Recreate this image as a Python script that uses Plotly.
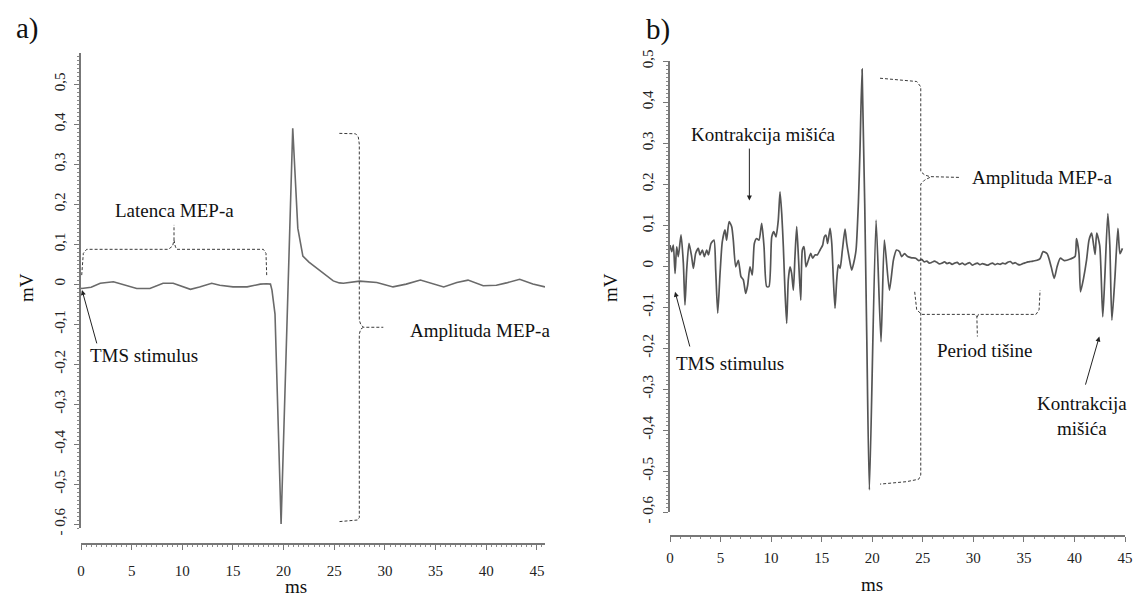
import plotly.graph_objects as go

# ---- panel a) : single MEP, relaxed muscle ----
t_a = [0.0, 0.07, 1.0, 1.9, 3.2, 4.5, 5.5, 6.8, 8.1, 9.1, 10.8, 11.7, 12.9, 13.7, 15.0,
       16.4, 17.7, 18.3, 18.7, 18.85, 19.0, 19.15, 19.75, 20.9, 21.4, 21.9, 22.5, 23.0,
       23.6, 24.3, 24.9, 25.5, 25.9, 27.5, 29.2, 30.8, 32.1, 33.5, 34.8, 35.8, 37.1,
       38.2, 39.7, 41.0, 42.0, 43.3, 44.6, 45.8]
v_a = [-0.01, -0.011, -0.008, 0.002, 0.006, -0.003, -0.011, -0.011, 0.002, 0.002, -0.013,
       -0.007, 0.002, -0.003, -0.007, -0.007, 0.0, 0.001, 0.0, -0.015, -0.04, -0.075, -0.6,
       0.39, 0.14, 0.07, 0.055, 0.045, 0.033, 0.018, 0.008, 0.003, 0.002, 0.0075, 0.004,
       -0.007, 0.0, 0.01, 0.0, -0.007, 0.004, 0.01, -0.004, -0.003, 0.003, 0.012, 0.0, -0.007]

# ---- panel b) : MEP during contraction, silent period ----
t_b = [0.0, 0.17, 0.33, 0.5, 0.66, 0.82, 1.09, 1.32, 1.48, 1.65, 1.88, 2.14, 2.31, 2.54,
       2.8, 2.97, 3.2, 3.4, 3.63, 3.8, 4.06, 4.35, 4.52, 4.72, 4.95, 5.17, 5.44, 5.6, 5.84,
       6.1, 6.26, 6.5, 6.76, 7.02, 7.25, 7.49, 7.68, 7.91, 8.14, 8.34, 8.57, 8.8, 9.07,
       9.3, 9.56, 9.79, 10.06, 10.26, 10.48, 10.71, 10.88, 11.05, 11.21, 11.37, 11.54,
       11.7, 11.87, 12.03, 12.2, 12.36, 12.53, 12.7, 12.93, 13.09, 13.26, 13.45, 13.68,
       13.92, 14.11, 14.34, 14.57, 14.84, 15.1, 15.26, 15.43, 15.59, 15.83, 16.0, 16.16,
       16.32, 16.49, 16.65, 16.82, 17.05, 17.31, 17.48, 17.7, 17.97, 18.13, 18.4, 18.63,
       18.79, 19.0, 19.45, 19.72, 20.38, 20.87, 21.2, 21.7, 22.1, 22.4, 22.7, 22.9, 23.2,
       23.5, 23.9, 24.3, 24.6, 24.9, 25.15, 25.4, 25.65, 25.9, 26.15, 26.4, 26.65, 26.9,
       27.15, 27.4, 27.65, 27.9, 28.15, 28.4, 28.65, 28.9, 29.15, 29.4, 29.65, 29.9,
       30.15, 30.4, 30.65, 30.9, 31.15, 31.4, 31.65, 31.9, 32.15, 32.4, 32.65, 32.9,
       33.15, 33.4, 33.65, 33.9, 34.15, 34.4, 34.65, 34.9, 35.15, 35.4, 35.65, 35.9,
       36.3, 36.6, 36.9, 37.3, 37.7, 38.0, 38.3, 38.6, 39.0, 39.6, 40.06, 40.2, 40.45,
       40.6, 40.9, 41.2, 41.44, 41.7, 42.04, 42.2, 42.5, 42.8, 43.0, 43.3, 43.5, 43.7,
       44.0, 44.3, 44.5, 44.75]
v_b = [0.051, 0.035, 0.051, -0.018, 0.047, 0.023, 0.076, 0.007, -0.095, -0.01, 0.055,
       0.023, -0.006, 0.031, 0.043, 0.027, 0.039, 0.023, 0.039, 0.027, 0.055, 0.063, -0.01,
       -0.115, -0.018, 0.059, 0.088, 0.063, 0.108, 0.096, 0.063, -0.002, 0.014, -0.026,
       -0.034, -0.067, -0.047, -0.002, -0.022, 0.055, 0.067, 0.063, 0.104, 0.047, -0.05,
       -0.05, 0.071, 0.084, 0.071, 0.112, 0.181, 0.128, 0.047, -0.059, -0.14, -0.034,
       -0.002, -0.018, -0.059, 0.023, 0.096, 0.023, -0.083, 0.039, 0.047, -0.002, 0.014,
       0.031, 0.019, 0.027, 0.027, 0.039, 0.051, 0.071, 0.075, 0.055, 0.092, 0.055, -0.034,
       -0.103, -0.034, 0.003, -0.006, 0.039, 0.09, 0.055, 0.023, -0.01, 0.003, 0.039, 0.153,
       0.283, 0.48, -0.156, -0.546, 0.112, -0.185, 0.063, -0.059, 0.015, 0.039, 0.035,
       0.023, 0.03, 0.023, 0.02, 0.019, 0.013, 0.016, 0.01, 0.012, 0.007, 0.009, 0.012,
       0.009, 0.005, 0.007, 0.01, 0.006, 0.008, 0.004, 0.007, 0.009, 0.004, 0.007, 0.003,
       0.006, 0.008, 0.002, 0.005, 0.007, 0.003, 0.006, 0.004, 0.002, 0.005, 0.007, 0.003,
       0.006, 0.004, 0.007, 0.005, 0.009, 0.011, 0.006, 0.008, 0.004, 0.003, 0.006, 0.008,
       0.01, 0.011, 0.012, 0.014, 0.018, 0.035, 0.03, -0.002, -0.03, 0.0, 0.019, 0.013,
       0.017, 0.023, 0.067, 0.03, -0.063, -0.03, 0.015, 0.063, 0.08, 0.028, 0.08, 0.05,
       -0.124, -0.03, 0.128, 0.05, -0.132, -0.03, 0.092, 0.03, 0.043, 0.015]

# y tick labels (comma decimals as in the original)
ytick_vals = [0.5, 0.4, 0.3, 0.2, 0.1, 0, -0.1, -0.2, -0.3, -0.4, -0.5, -0.6]
ytick_text = ["0,5", "0,4", "0,3", "0,2", "0,1", "0", "-0,1", "-0,2", "-0,3", "-0,4", "-0,5", "- 0,6"]
xtick_vals = [0, 5, 10, 15, 20, 25, 30, 35, 40, 45]

# dashed brackets (x in ms, y in mV)
lat_x = [0.07, 0.23, 0.56, 8.62, 9.04, 9.18, 9.18, None, 9.18, 9.3, 9.44, 18.0, 18.26, 18.33]
lat_y = [0.0225, 0.077, 0.087, 0.087, 0.095, 0.11, 0.148, None, 0.11, 0.095, 0.087, 0.087, 0.077, 0.0225]
ampa_x = [25.5, 27.1, 27.37, 27.47, 27.47, 27.6, 27.87, 29.84, None, 27.87, 27.6, 27.47, 27.47, 27.3, 26.55, 25.5]
ampa_y = [0.377, 0.376, 0.368, 0.35, -0.09, -0.1, -0.108, -0.108, None, -0.108, -0.113, -0.125, -0.584, -0.59, -0.592, -0.594]
ampb_x = [20.77, 24.4, 24.8, 24.8, 25.2, 25.7, 28.7, None, 25.7, 25.2, 24.8, 24.8, 24.6, 23.4, 20.77]
ampb_y = [0.458, 0.45, 0.437, 0.23, 0.222, 0.218, 0.216, None, 0.216, 0.21, 0.2, -0.51, -0.52, -0.526, -0.532]
per_x = [24.2, 24.4, 24.9, 30.2, 30.35, 30.4, None, 30.4, 30.5, 30.7, 36.2, 36.5, 36.6]
per_y = [-0.063, -0.107, -0.118, -0.118, -0.124, -0.172, None, -0.124, -0.118, -0.118, -0.118, -0.107, -0.059]

FONT = "Liberation Serif, Times New Roman, serif"
dash_col = "#3a3a3a"

fig = go.Figure()
fig.add_trace(go.Scatter(x=t_a, y=v_a, mode="lines", line=dict(color="#6a6a6a", width=1.6),
                         xaxis="x", yaxis="y", hoverinfo="skip"))
fig.add_trace(go.Scatter(x=t_b, y=v_b, mode="lines",
                         line=dict(color="#555555", width=1.7, shape="spline", smoothing=0.6),
                         xaxis="x2", yaxis="y2", hoverinfo="skip"))
for bx, by, xa, ya in [(lat_x, lat_y, "x", "y"), (ampa_x, ampa_y, "x", "y"),
                       (ampb_x, ampb_y, "x2", "y2"), (per_x, per_y, "x2", "y2")]:
    fig.add_trace(go.Scatter(x=bx, y=by, mode="lines", xaxis=xa, yaxis=ya, hoverinfo="skip",
                             line=dict(color=dash_col, width=1, dash="3px,2px")))

W, H = 1134, 596
ax_col = "#777777"


def xaxis_cfg(px0, px1, rng, ypos, minor_dt, standoff):
    return dict(domain=[px0 / W, px1 / W], range=rng, anchor="free", position=1 - ypos / H,
                automargin=False,
                showline=True, linecolor=ax_col, linewidth=1.6, ticks="outside", ticklen=5,
                tickwidth=1.2, tickcolor=ax_col, tickmode="array", tickvals=xtick_vals,
                minor=dict(tickmode="linear", tick0=0, dtick=minor_dt, ticks="outside",
                           ticklen=2.5, tickcolor="#8a8a8a", tickwidth=1),
                showgrid=False, zeroline=False, ticklabelstandoff=standoff,
                tickfont=dict(family=FONT, size=15, color="#222"), fixedrange=True)


def yaxis_cfg(py0, py1, rng, xanchor, standoff):
    return dict(domain=[1 - py1 / H, 1 - py0 / H], range=rng, anchor=xanchor,
                automargin=False,
                showline=True, linecolor=ax_col, linewidth=1.6, ticks="outside", ticklen=5,
                tickwidth=1.2, tickcolor=ax_col, tickmode="array", tickvals=ytick_vals,
                ticktext=ytick_text, tickangle=-90,
                minor=dict(tickmode="linear", tick0=0, dtick=0.01, ticks="outside",
                           ticklen=2.5, tickcolor="#8a8a8a", tickwidth=1),
                showgrid=False, zeroline=False, ticklabelstandoff=standoff,
                tickfont=dict(family=FONT, size=15, color="#222"), fixedrange=True)


fig.update_layout(
    template="none",
    width=W, height=H, showlegend=False,
    margin=dict(l=0, r=0, t=0, b=0, autoexpand=False),
    paper_bgcolor="white", plot_bgcolor="white",
    xaxis=xaxis_cfg(81, 545, [0, 45.8], 544, 0.5, 8),
    yaxis=yaxis_cfg(53, 528, [-0.61, 0.578], "x", 3),
    xaxis2=xaxis_cfg(670, 1125, [0, 45], 536, 1, 3),
    yaxis2=yaxis_cfg(61, 512, [-0.6, 0.5], "x2", 4),
    font=dict(family=FONT, size=19, color="#111"),
)

txt = dict(font=dict(family=FONT, size=19, color="#111"), showarrow=False,
           xanchor="center", yanchor="middle")
big = dict(family=FONT, size=29, color="#111")
ann = [
    dict(text="a)", x=27 / W, y=1 - 28 / H, xref="paper", yref="paper", font=big,
         showarrow=False, xanchor="center", yanchor="middle"),
    dict(text="b)", x=658 / W, y=1 - 30 / H, xref="paper", yref="paper", font=big,
         showarrow=False, xanchor="center", yanchor="middle"),
    dict(text="mV", x=26 / W, y=1 - 288 / H, xref="paper", yref="paper", textangle=-90, **txt),
    dict(text="mV", x=610 / W, y=1 - 288 / H, xref="paper", yref="paper", textangle=-90, **txt),
    dict(text="ms", x=296 / W, y=1 - 586 / H, xref="paper", yref="paper", **txt),
    dict(text="ms", x=872 / W, y=1 - 584 / H, xref="paper", yref="paper", **txt),
    # panel a
    dict(text="Latenca MEP-a", x=9.2, y=0.185, xref="x", yref="y", **txt),
    dict(text="TMS stimulus", x=6.2, y=-0.178, xref="x", yref="y", **txt),
    dict(text="Amplituda MEP-a", x=39.4, y=-0.115, xref="x", yref="y", **txt),
    dict(text="", x=0.1, y=-0.015, ax=1.6, ay=-0.152, xref="x", yref="y", axref="x", ayref="y",
         showarrow=True, arrowhead=2, arrowsize=1, arrowwidth=1, arrowcolor="#222"),
    # panel b
    dict(text="Kontrakcija mišića", x=9.2, y=0.32, xref="x2", yref="y2", **txt),
    dict(text="", x=7.85, y=0.16, ax=7.85, ay=0.29, xref="x2", yref="y2", axref="x2", ayref="y2",
         showarrow=True, arrowhead=2, arrowsize=1, arrowwidth=1, arrowcolor="#222"),
    dict(text="Amplituda MEP-a", x=36.8, y=0.217, xref="x2", yref="y2", **txt),
    dict(text="Period tišine", x=31.2, y=-0.205, xref="x2", yref="y2", **txt),
    dict(text="TMS stimulus", x=5.9, y=-0.237, xref="x2", yref="y2", **txt),
    dict(text="", x=0.5, y=-0.063, ax=2.0, ay=-0.2, xref="x2", yref="y2", axref="x2", ayref="y2",
         showarrow=True, arrowhead=2, arrowsize=1, arrowwidth=1, arrowcolor="#222"),
    dict(text="Kontrakcija<br>mišića", x=40.7, y=-0.367, xref="x2", yref="y2", **txt),
    dict(text="", x=42.46, y=-0.172, ax=41.05, ay=-0.293, xref="x2", yref="y2", axref="x2", ayref="y2",
         showarrow=True, arrowhead=2, arrowsize=1, arrowwidth=1, arrowcolor="#222"),
]
fig.update_layout(annotations=ann)

# the page body has a default 8px margin; drop it so the figure sits at the window corner
fig.write_html("out.html", config={"displayModeBar": False},
               post_script="document.body.style.margin='0';document.body.style.overflow='hidden';")
